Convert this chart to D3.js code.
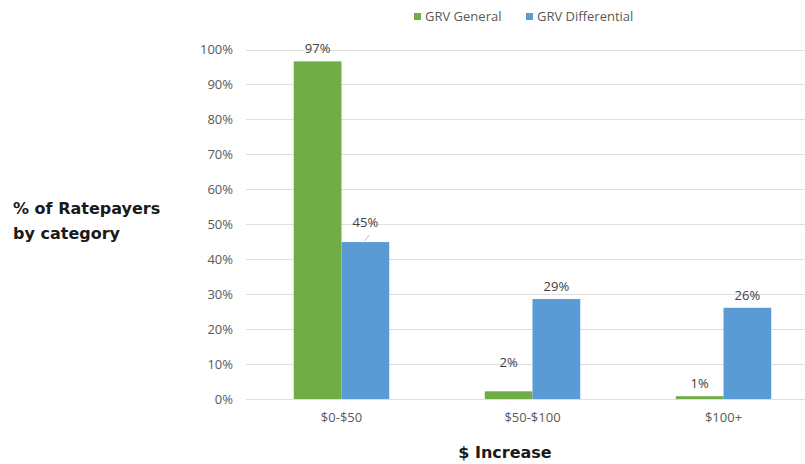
<!DOCTYPE html>
<html>
<head>
<meta charset="utf-8">
<script src="https://cdn.jsdelivr.net/npm/d3@7"></script>
<style>
  body { margin: 0; background: #fff; }
  svg { display: block; }
</style>
</head>
<body>
<div id="chart"></div>
<script>
// data
const categories = ["$0-$50", "$50-$100", "$100+"];
const seriesNames = ["GRV General", "GRV Differential"];
const grvGeneral = [96.6, 2.2, 0.8];
const grvDifferential = [44.9, 28.6, 26.1];
const generalLabels = ["97%", "2%", "1%"];
const differentialLabels = ["45%", "29%", "26%"];
const yTicks = [0, 10, 20, 30, 40, 50, 60, 70, 80, 90, 100];

const colors = ["#70ad47", "#5b9bd5"];
const width = 805, height = 464;
const font = "'Open Sans', 'Liberation Sans', sans-serif";

const svg = d3.select("#chart").append("svg")
    .attr("width", width)
    .attr("height", height);

// plot area (bands run past the right edge, like the original crop)
const x = d3.scaleBand().domain(categories).range([246, 819]).paddingInner(0.5).paddingOuter(0.25);
const xSub = d3.scaleBand().domain(seriesNames).range([0, x.bandwidth()]);
const y = d3.scaleLinear().domain([0, 100]).range([399, 49.5]);

// gridlines
svg.append("g")
    .selectAll("line")
    .data(yTicks)
    .join("line")
    .attr("x1", 246)
    .attr("x2", width)
    .attr("y1", d => Math.round(y(d)) + 0.5)
    .attr("y2", d => Math.round(y(d)) + 0.5)
    .attr("stroke", "#dedede")
    .attr("stroke-width", 1);

// y axis labels
const yAxis = svg.append("g")
    .attr("transform", "translate(237,0)")
    .call(d3.axisLeft(y).tickValues(yTicks).tickFormat(d => d + "%").tickSize(0).tickPadding(4));
yAxis.select(".domain").remove();
yAxis.selectAll("text")
    .attr("font-family", font)
    .attr("font-size", 13)
    .attr("fill", "#595959");

// x axis labels
const xAxis = svg.append("g")
    .attr("transform", "translate(0,399)")
    .call(d3.axisBottom(x).tickSize(0).tickPadding(14));
xAxis.select(".domain").remove();
xAxis.selectAll("text")
    .attr("font-family", font)
    .attr("font-size", 13)
    .attr("fill", "#595959");

// bars
const rows = categories.map((c, i) => ({
    cat: c,
    vals: [
        { s: seriesNames[0], v: grvGeneral[i], label: generalLabels[i] },
        { s: seriesNames[1], v: grvDifferential[i], label: differentialLabels[i] }
    ]
}));

const groups = svg.append("g")
    .selectAll("g")
    .data(rows)
    .join("g")
    .attr("transform", d => `translate(${x(d.cat)},0)`);

groups.selectAll("rect")
    .data(d => d.vals)
    .join("rect")
    .attr("x", d => xSub(d.s))
    .attr("width", xSub.bandwidth())
    .attr("y", d => y(d.v))
    .attr("height", d => y(0) - y(d.v))
    .attr("fill", (d, i) => colors[i]);

// a couple of labels were dragged away from their bars in the original
const nudge = { "$0-$50|GRV Differential": [0, -7], "$50-$100|GRV General": [0, -16] };

groups.each(function (row) {
    const g = d3.select(this);
    row.vals.forEach(d => {
        const off = nudge[row.cat + "|" + d.s] || [0, 0];
        const cx = xSub(d.s) + xSub.bandwidth() / 2 + off[0];
        const cy = y(d.v) - 8 + off[1];
        g.append("text")
            .attr("x", cx)
            .attr("y", cy)
            .attr("text-anchor", "middle")
            .attr("font-family", font)
            .attr("font-size", 13)
            .attr("fill", "#404040")
            .text(d.label);
        if (off[1] < -5 && d.s === seriesNames[1]) {
            // small leader line
            g.append("line")
                .attr("x1", cx + 4).attr("y1", cy + 8)
                .attr("x2", cx - 1).attr("y2", y(d.v) - 1)
                .attr("stroke", "#bfbfbf")
                .attr("stroke-width", 1);
        }
    });
});

// legend
const legend = svg.append("g").attr("transform", "translate(414,0)");
const legendX = [0, 112];
seriesNames.forEach((name, i) => {
    legend.append("rect")
        .attr("x", legendX[i])
        .attr("y", 13)
        .attr("width", 7)
        .attr("height", 7)
        .attr("fill", colors[i]);
    legend.append("text")
        .attr("x", legendX[i] + 11)
        .attr("y", 21)
        .attr("font-family", font)
        .attr("font-size", 13)
        .attr("fill", "#595959")
        .text(name);
});

// axis titles
const title = svg.append("text")
    .attr("font-family", "'DejaVu Sans', sans-serif")
    .attr("font-weight", "bold")
    .attr("font-size", 16)
    .attr("fill", "#1a1a1a");
title.append("tspan").attr("x", 13).attr("y", 214).text("% of Ratepayers");
title.append("tspan").attr("x", 13).attr("y", 239).text("by category");

svg.append("text")
    .attr("x", 505)
    .attr("y", 458)
    .attr("text-anchor", "middle")
    .attr("font-family", "'DejaVu Sans', sans-serif")
    .attr("font-weight", "bold")
    .attr("font-size", 16)
    .attr("fill", "#1a1a1a")
    .text("$ Increase");
</script>
</body>
</html>
